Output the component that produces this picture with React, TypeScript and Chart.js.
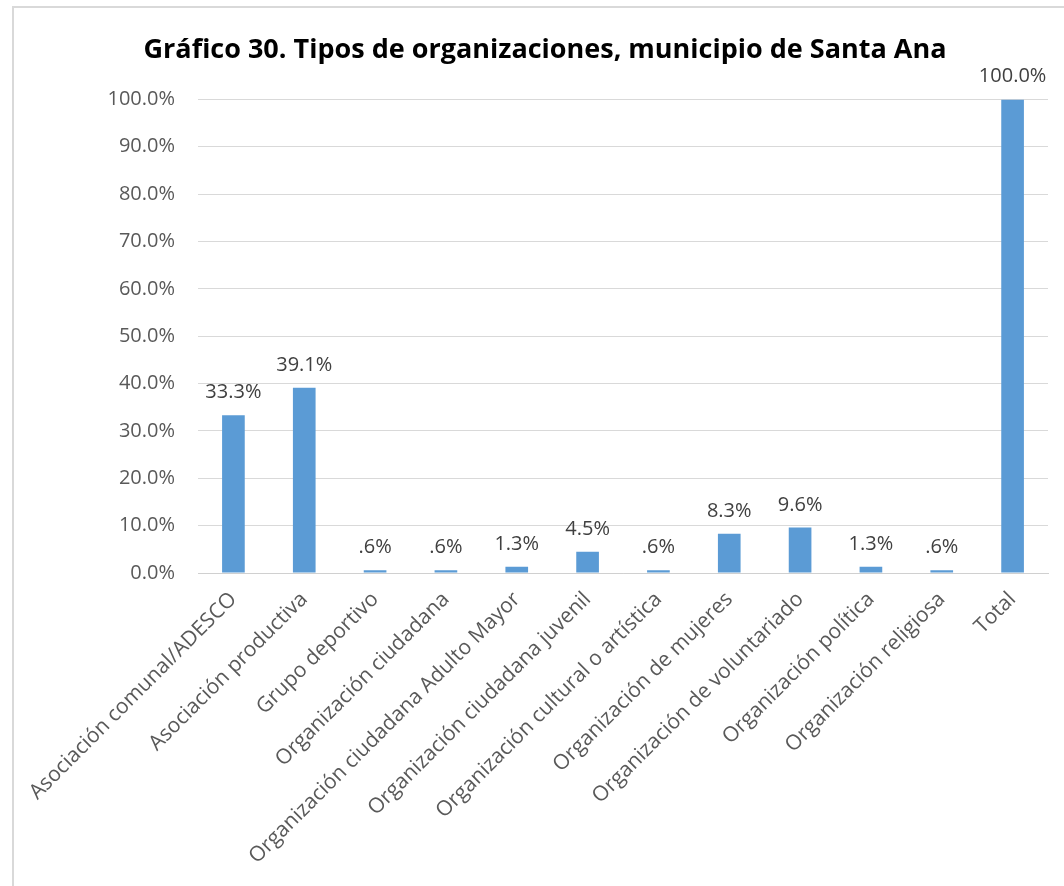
import React, { useEffect, useRef } from "react";
import { Chart, registerables } from "chart.js";

Chart.register(...registerables);

const TITLE = "Gráfico 30. Tipos de organizaciones, municipio de Santa Ana";

const categories = [
  "Asociación comunal/ADESCO",
  "Asociación productiva",
  "Grupo deportivo",
  "Organización ciudadana",
  "Organización ciudadana Adulto Mayor",
  "Organización ciudadana juvenil",
  "Organización cultural o artística",
  "Organización de mujeres",
  "Organización de voluntariado",
  "Organización política",
  "Organización religiosa",
  "Total",
];

const values = [33.3, 39.1, 0.6, 0.6, 1.3, 4.5, 0.6, 8.3, 9.6, 1.3, 0.6, 100.0];

const valueLabels = [
  "33.3%", "39.1%", ".6%", ".6%", "1.3%", "4.5%", ".6%", "8.3%", "9.6%", "1.3%", ".6%", "100.0%",
];

const yMin = 0;
const yMax = 100;
const yStep = 10;

const FONT = "'Open Sans', 'DejaVu Sans', sans-serif";

const dataLabelPlugin = {
  id: "dataLabels",
  afterDatasetsDraw(chart: any) {
    const ctx = chart.ctx;
    const meta = chart.getDatasetMeta(0);
    ctx.save();
    ctx.font = `20px ${FONT}`;
    ctx.fillStyle = "#404040";
    ctx.textAlign = "center";
    ctx.textBaseline = "alphabetic";
    meta.data.forEach((bar: any, i: number) => {
      ctx.fillText(valueLabels[i], bar.x, bar.y - 17);
    });
    ctx.restore();
  },
};

export default function App() {
  const ref = useRef<HTMLCanvasElement | null>(null);

  useEffect(() => {
    if (!ref.current) return;
    const chart = new Chart(ref.current, {
      type: "bar",
      data: {
        labels: categories,
        datasets: [
          {
            data: values,
            backgroundColor: "#5B9BD5",
            borderWidth: 0,
            barPercentage: 0.32,
            categoryPercentage: 1,
          },
        ],
      },
      options: {
        responsive: false,
        animation: false,
        layout: { padding: { left: 28, right: 10, top: 0, bottom: 0 } },
        plugins: {
          legend: { display: false },
          tooltip: { enabled: false },
          title: {
            display: true,
            text: TITLE,
            color: "#000000",
            font: { family: FONT, size: 27, weight: "bold", lineHeight: 1.2 },
            padding: { top: 26, bottom: 33 },
          },
        },
        scales: {
          x: {
            grid: { display: false },
            border: { display: true, color: "#d0d0d0", width: 1 },
            ticks: {
              color: "#595959",
              font: { family: FONT, size: 21 },
              minRotation: 45,
              maxRotation: 45,
              autoSkip: false,
              padding: 6,
            },
            afterFit(scale: any) {
              scale.height = 305;
            },
          },
          y: {
            min: yMin,
            max: yMax,
            grid: { color: "#d9d9d9", lineWidth: 1, drawTicks: false },
            border: { display: false },
            ticks: {
              stepSize: yStep,
              color: "#595959",
              font: { family: FONT, size: 20 },
              padding: 23,
              callback: (v: any) => Number(v).toFixed(1) + "%",
            },
            afterFit(scale: any) {
              scale.width = 156;
            },
          },
        },
      },
      plugins: [dataLabelPlugin],
    });
    return () => chart.destroy();
  }, []);

  return (
    <div
      style={{
        position: "fixed",
        left: 12,
        top: 6,
        width: 1052,
        height: 880,
        borderLeft: "2px solid #d9d9d9",
        borderTop: "2px solid #d9d9d9",
        background: "#ffffff",
      }}
    >
      <canvas
        ref={ref}
        width={1044}
        height={870}
        style={{ position: "absolute", left: 0, top: 0, width: 1044, height: 870 }}
      />
    </div>
  );
}
